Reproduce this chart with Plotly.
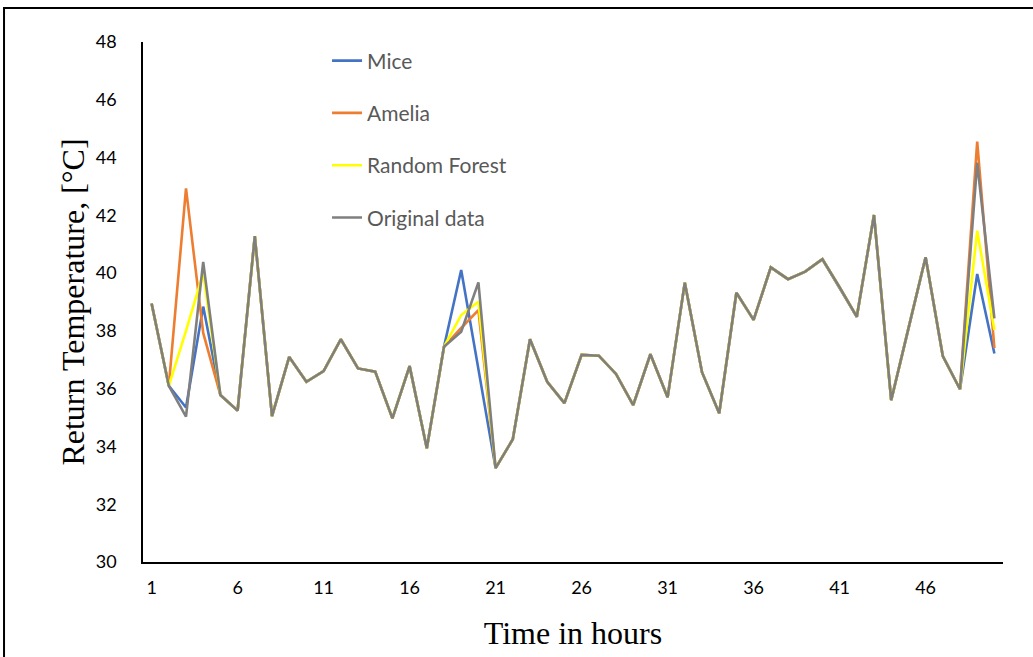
import plotly.graph_objects as go

hours = list(range(1, 51))

original = [38.95, 36.1, 35.03, 40.39, 35.78, 35.24, 41.28, 35.05, 37.1, 36.24,
            36.61, 37.71, 36.7, 36.59, 34.97, 36.78, 33.94, 37.45, 37.97, 39.68,
            33.25, 34.25, 37.71, 36.24, 35.5, 37.17, 37.14, 36.51, 35.43, 37.19,
            35.7, 39.67, 36.57, 35.15, 39.32, 38.38, 40.2, 39.79, 40.05, 40.48,
            39.51, 38.49, 42.01, 35.6, 38.08, 40.55, 37.13, 35.98, 43.82, 38.43]

mice = [38.95, 36.1, 35.35, 38.84, 35.78, 35.24, 41.28, 35.05, 37.1, 36.24,
        36.61, 37.71, 36.7, 36.59, 34.97, 36.78, 33.94, 37.45, 40.11, 36.75,
        33.25, 34.25, 37.71, 36.24, 35.5, 37.17, 37.14, 36.51, 35.43, 37.19,
        35.7, 39.67, 36.57, 35.15, 39.32, 38.38, 40.2, 39.79, 40.05, 40.48,
        39.51, 38.49, 42.01, 35.6, 38.08, 40.55, 37.13, 35.98, 39.97, 37.22]

amelia = [38.95, 36.1, 42.93, 37.93, 35.78, 35.24, 41.28, 35.05, 37.1, 36.24,
          36.61, 37.71, 36.7, 36.59, 34.97, 36.78, 33.94, 37.45, 38.1, 38.72,
          33.25, 34.25, 37.71, 36.24, 35.5, 37.17, 37.14, 36.51, 35.43, 37.19,
          35.7, 39.67, 36.57, 35.15, 39.32, 38.38, 40.2, 39.79, 40.05, 40.48,
          39.51, 38.49, 42.01, 35.6, 38.08, 40.55, 37.13, 35.98, 44.55, 37.4]

random_forest = [38.95, 36.1, 38.0, 40.0, 35.78, 35.24, 41.28, 35.05, 37.1, 36.24,
                 36.61, 37.71, 36.7, 36.59, 34.97, 36.78, 33.94, 37.45, 38.55, 39.01,
                 33.25, 34.25, 37.71, 36.24, 35.5, 37.17, 37.14, 36.51, 35.43, 37.19,
                 35.7, 39.67, 36.57, 35.15, 39.32, 38.38, 40.2, 39.79, 40.05, 40.48,
                 39.51, 38.49, 42.01, 35.6, 38.08, 40.55, 37.13, 35.98, 41.47, 38.03]

series = [
    ("Mice", mice, "#4472C4"),
    ("Amelia", amelia, "#ED7D31"),
    ("Random Forest", random_forest, "#FFFF00"),
    ("Original data", original, "#7F7F7F"),
]

x_ticks = [1, 6, 11, 16, 21, 26, 31, 36, 41, 46]
y_ticks = [30, 32, 34, 36, 38, 40, 42, 44, 46, 48]

fig = go.Figure()
for name, values, color in series:
    fig.add_trace(go.Scatter(
        x=hours, y=values, name=name, mode="lines",
        line=dict(color=color, width=2.6),
        legendgroup=name,
    ))

fig.update_layout(
    width=1033, height=657,
    margin=dict(l=143, r=30, t=42, b=95),
    paper_bgcolor="white", plot_bgcolor="white",
    showlegend=True,
    legend=dict(
        x=0.214, y=1.003, xanchor="left", yanchor="top",
        bgcolor="rgba(0,0,0,0)",
        font=dict(family="Lato", size=21, color="#595959"),
        tracegroupgap=22,
        traceorder="grouped",
        itemwidth=30,
    ),
    xaxis=dict(
        range=[0.5, 50.5], tickmode="array", tickvals=x_ticks,
        ticktext=[str(t) for t in x_ticks],
        showgrid=False, zeroline=False,
        showline=True, linecolor="black", linewidth=1.5,
        ticks="", ticklabelstandoff=9,
        tickfont=dict(family="Lato", size=18, color="black"),
        title=dict(text="Time in hours", standoff=24,
                   font=dict(family="Liberation Serif", size=32, color="black")),
    ),
    yaxis=dict(
        range=[30, 48], tickmode="array", tickvals=y_ticks,
        showgrid=False, zeroline=False,
        showline=True, linecolor="black", linewidth=1.5,
        ticks="", ticklabelstandoff=21,
        tickfont=dict(family="Lato", size=18, color="black"),
        title=dict(text="Return Temperature, [°C]", standoff=2,
                   font=dict(family="Liberation Serif", size=32, color="black")),
    ),
    shapes=[dict(
        type="rect", xref="paper", yref="paper",
        x0=-0.1616, x1=1.2, y0=-0.4, y1=1.0654,
        line=dict(color="black", width=2), fillcolor="rgba(0,0,0,0)",
        layer="below",
    )],
)

fig.write_html("out.html")
